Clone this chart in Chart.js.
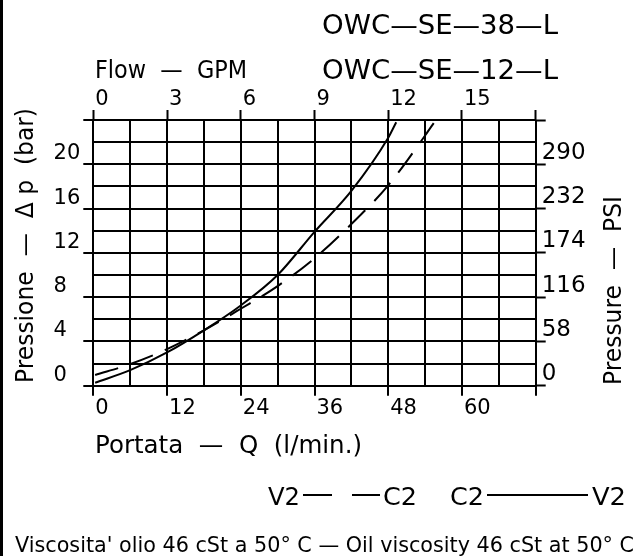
<!DOCTYPE html>
<html>
<head>
<meta charset="utf-8">
<script src="https://cdn.jsdelivr.net/npm/chart.js@4.4.1/dist/chart.umd.min.js"></script>
<style>
  html, body { margin: 0; padding: 0; background: #fff; }
</style>
</head>
<body>
<canvas id="chart" width="641" height="556"></canvas>
<script>
// flow Q in l/min and pressure drop in bar
const flowSolid = [0.3, 6, 12, 18, 24, 30, 36, 42, 48, 49.3];
const dpSolid = [0.27, 1.4, 3.0, 5.0, 7.25, 10.0, 13.9, 17.6, 22.4, 23.8];
const flowDashed = [0.3, 6, 12, 18, 24, 30, 36, 42, 48, 54, 55.5];
const dpDashed = [0.97, 1.95, 3.3, 5.0, 6.95, 9.0, 11.5, 14.6, 18.1, 22.6, 23.8];

// labelled ticks on each axis
const lpmTicks = [0, 12, 24, 36, 48, 60];
const gpmTicks = [0, 3, 6, 9, 12, 15];
const barTicks = [0, 4, 8, 12, 16, 20];
const psiTicks = [0, 58, 116, 174, 232, 290];

const lpmMax = 72, gpmMax = 18, barMax = 24, psiMax = 348;

// plot frame in canvas pixels
const area = { left: 93.3, right: 535.7, top: 120, bottom: 385.7 };
const W = 641, H = 556;

const FONT = '"DejaVu Sans", sans-serif';

function toPoints(xs, ys) {
    return xs.map((x, i) => ({ x: x, y: ys[i] }));
}

// draws text squeezed/stretched to a given width (plotter font is narrow)
function fitText(ctx, text, x, y, width, size, angle) {
    ctx.save();
    ctx.font = size + 'px ' + FONT;
    const w = ctx.measureText(text).width;
    ctx.translate(x, y);
    if (angle) ctx.rotate(angle);
    ctx.scale(width / w, 1);
    ctx.fillStyle = '#000';
    ctx.textAlign = 'left';
    ctx.textBaseline = 'alphabetic';
    ctx.fillText(text, 0, 0);
    ctx.restore();
}

const sheetText = {
    id: 'sheetText',
    afterDraw(chart) {
        const ctx = chart.ctx;
        // left frame edge
        ctx.save();
        ctx.fillStyle = '#000';
        ctx.fillRect(0, 0, 3, H);
        ctx.restore();

        fitText(ctx, 'OWC—SE—38—L', 322, 34, 236, 26);
        fitText(ctx, 'OWC—SE—12—L', 322, 79, 236, 26);
        fitText(ctx, 'Flow  —  GPM', 95, 78, 152, 24);
        fitText(ctx, 'Portata  —  Q  (l/min.)', 95, 453, 267, 24);
        fitText(ctx, 'Pressione  —  Δ p  (bar)', 33, 383, 275, 24, -Math.PI / 2);
        fitText(ctx, 'Pressure  —  PSI', 621, 385, 189, 24, -Math.PI / 2);

        // line key
        fitText(ctx, 'V2', 268, 505, 32, 24);
        fitText(ctx, 'C2', 383, 505, 34, 24);
        fitText(ctx, 'C2', 450, 505, 34, 24);
        fitText(ctx, 'V2', 592, 505, 34, 24);
        ctx.save();
        ctx.strokeStyle = '#000';
        ctx.lineWidth = 2;
        ctx.beginPath();
        ctx.moveTo(303, 495); ctx.lineTo(332, 495);
        ctx.moveTo(352, 495); ctx.lineTo(380, 495);
        ctx.moveTo(487, 495); ctx.lineTo(588, 495);
        ctx.stroke();
        ctx.restore();

        fitText(ctx, 'Viscosita\' olio 46 cSt a 50° C — Oil viscosity 46 cSt at 50° C', 15, 552, 619, 22);
    }
};

const majorTick = (list) => (c) => (c.tick && list.includes(c.tick.value)) ? '#000' : 'rgba(0,0,0,0)';

const ctx = document.getElementById('chart').getContext('2d');
const chart = new Chart(ctx, {
    type: 'line',
    data: {
        datasets: [{
            label: 'C2 — V2',
            data: toPoints(flowSolid, dpSolid),
            borderColor: '#000',
            borderWidth: 2,
            pointRadius: 0,
            fill: false,
            cubicInterpolationMode: 'monotone',
            xAxisID: 'x',
            yAxisID: 'y'
        }, {
            label: 'V2 — C2',
            data: toPoints(flowDashed, dpDashed),
            borderColor: '#000',
            borderWidth: 2,
            borderDash: [24, 13],
            pointRadius: 0,
            fill: false,
            cubicInterpolationMode: 'monotone',
            xAxisID: 'x',
            yAxisID: 'y'
        }]
    },
    options: {
        responsive: false,
        animation: false,
        devicePixelRatio: 1,
        layout: { padding: 0 },
        plugins: {
            legend: { display: false },
            tooltip: { enabled: false },
            title: { display: false }
        },
        scales: {
            x: {
                type: 'linear',
                position: 'bottom',
                min: 0,
                max: lpmMax,
                afterFit: s => { s.height = H - area.bottom; },
                ticks: {
                    stepSize: 6,
                    autoSkip: false,
                    maxRotation: 0,
                    align: 'start',
                    labelOffset: 2,
                    padding: 0,
                    color: '#000',
                    font: { family: FONT, size: 21 },
                    callback: v => lpmTicks.includes(v) ? String(v) : ''
                },
                grid: {
                    color: '#000',
                    lineWidth: 2,
                    tickLength: 10,
                    tickWidth: 2,
                    tickColor: majorTick([0, 12, 24, 36, 48, 60, 72])
                },
                border: { display: true, color: '#000', width: 2 }
            },
            x2: {
                type: 'linear',
                position: 'top',
                min: 0,
                max: gpmMax,
                afterFit: s => { s.height = area.top; },
                ticks: {
                    stepSize: 3,
                    autoSkip: false,
                    maxRotation: 0,
                    align: 'start',
                    labelOffset: 2,
                    padding: -2,
                    color: '#000',
                    font: { family: FONT, size: 21 },
                    callback: v => gpmTicks.includes(v) ? String(v) : ''
                },
                grid: {
                    drawOnChartArea: false,
                    tickLength: 10,
                    tickWidth: 2,
                    tickColor: '#000'
                },
                border: { display: false }
            },
            y: {
                type: 'linear',
                position: 'left',
                min: 0,
                max: barMax,
                afterFit: s => { s.width = area.left; },
                ticks: {
                    stepSize: 2,
                    autoSkip: false,
                    align: 'end',
                    crossAlign: 'near',
                    padding: 3,
                    color: '#000',
                    font: { family: FONT, size: 21 },
                    // figure space keeps the single digits flush left like the sheet
                    callback: v => barTicks.includes(v) ? (v < 10 ? v + '\u2007' : String(v)) : ''
                },
                grid: {
                    color: '#000',
                    lineWidth: 2,
                    tickLength: 10,
                    tickWidth: 2,
                    tickColor: majorTick([0, 4, 8, 12, 16, 20, 24])
                },
                border: { display: true, color: '#000', width: 2 }
            },
            y2: {
                type: 'linear',
                position: 'right',
                min: 0,
                max: psiMax,
                afterFit: s => { s.width = W - area.right; },
                ticks: {
                    stepSize: 58,
                    autoSkip: false,
                    align: 'end',
                    crossAlign: 'near',
                    padding: -4,
                    color: '#000',
                    font: { family: FONT, size: 23 },
                    callback: v => psiTicks.includes(v) ? String(v) : ''
                },
                grid: {
                    drawOnChartArea: false,
                    tickLength: 10,
                    tickWidth: 2,
                    tickColor: '#000'
                },
                border: { display: false }
            }
        }
    },
    plugins: [sheetText]
});
</script>
</body>
</html>
